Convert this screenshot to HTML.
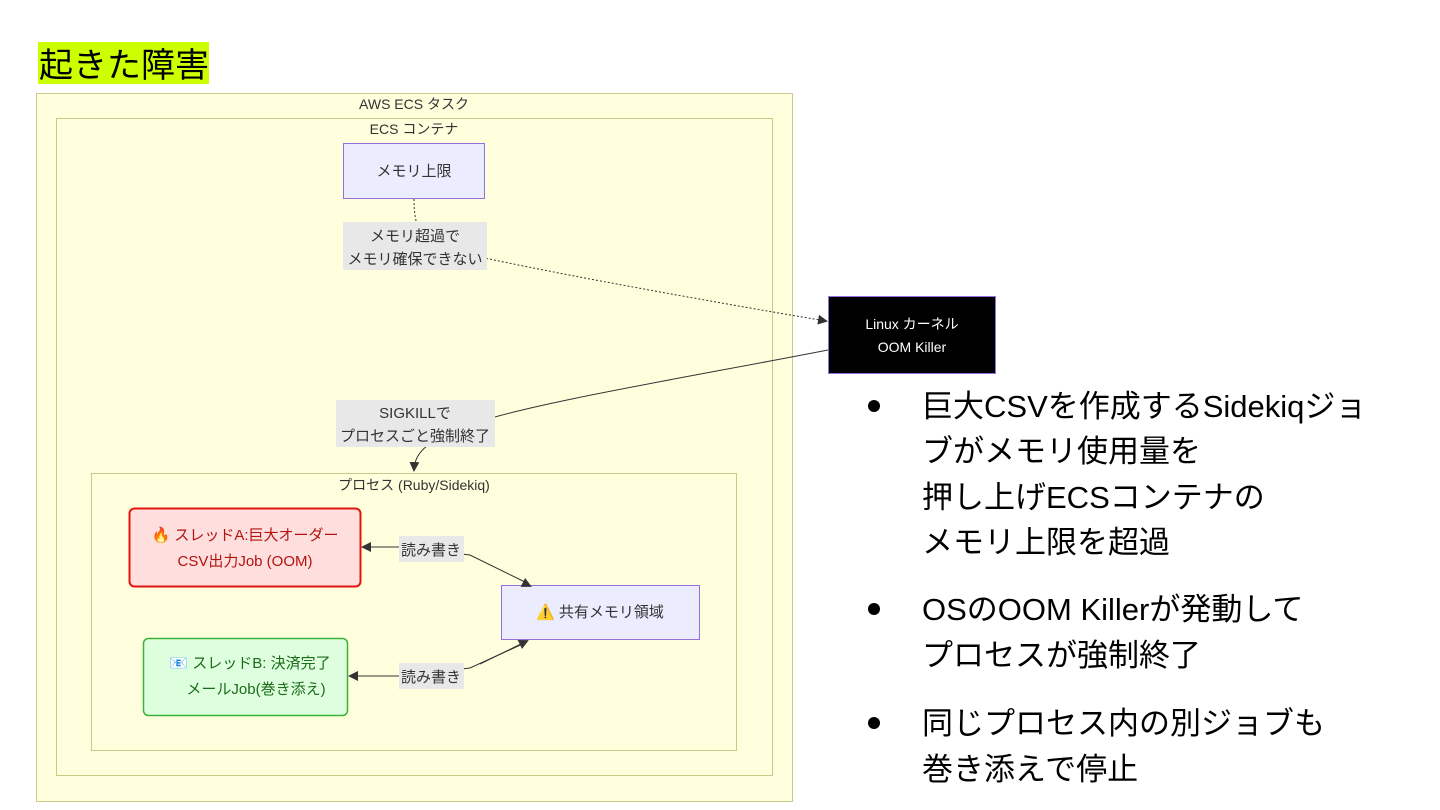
<!DOCTYPE html>
<html><head><meta charset="utf-8"><style>
html,body{margin:0;padding:0;background:#fff;width:1440px;height:810px;overflow:hidden}
svg{display:block}
text{font-family:"Liberation Sans","Noto Sans CJK JP",sans-serif}
</style></head><body>
<svg width="1440" height="810" viewBox="0 0 1440 810" xmlns="http://www.w3.org/2000/svg">
<defs>
<marker id="ah" markerWidth="10" markerHeight="10" refX="8" refY="5" orient="auto" markerUnits="userSpaceOnUse"><path d="M0,0 L10,5 L0,10 z" fill="#333"/></marker>
</defs>
<rect x="38" y="42" width="171" height="42" fill="#ccff00"/>
<text x="39" y="77" font-size="34" fill="#000">起きた障害</text>

<rect x="36.5" y="93.5" width="756" height="708" fill="#ffffde" stroke="#c9c98a"/>
<text x="414" y="109" font-size="14" text-anchor="middle" fill="#333">AWS ECS タスク</text>
<rect x="56.5" y="118.5" width="716" height="657" fill="#ffffde" stroke="#c9c98a"/>
<text x="414" y="134" font-size="14" text-anchor="middle" fill="#333">ECS コンテナ</text>
<rect x="91.5" y="473.5" width="645" height="277" fill="#ffffde" stroke="#c9c98a"/>
<text x="414" y="490" font-size="14" text-anchor="middle" fill="#333">プロセス (Ruby/Sidekiq)</text>

<rect x="343.5" y="143.5" width="141" height="55" fill="#ececff" stroke="#9370db"/>
<text x="414" y="176" font-size="15" text-anchor="middle" fill="#333">メモリ上限</text>

<path d="M414,199 C414,225 420,235 430,245 C480,260 700,300 826,321" fill="none" stroke="#333" stroke-dasharray="2,2" marker-end="url(#ah)"/>
<rect x="343" y="222" width="144" height="48" fill="#e8e8e8"/>
<text x="415" y="241" font-size="15" text-anchor="middle" fill="#333">メモリ超過で</text>
<text x="415" y="264" font-size="15" text-anchor="middle" fill="#333">メモリ確保できない</text>

<rect x="828.5" y="296.5" width="167" height="77" fill="#000" stroke="#9370db"/>
<text x="912" y="329" font-size="14" text-anchor="middle" fill="#fff">Linux カーネル</text>
<text x="912" y="352" font-size="14" text-anchor="middle" fill="#fff">OOM Killer</text>

<path d="M828,350 C700,375 520,405 470,425 C430,440 415,450 414,470" fill="none" stroke="#333" marker-end="url(#ah)"/>
<rect x="336" y="400" width="159" height="47" fill="#e8e8e8"/>
<text x="415" y="418" font-size="15" text-anchor="middle" fill="#333">SIGKILLで</text>
<text x="415" y="441" font-size="15" text-anchor="middle" fill="#333">プロセスごと強制終了</text>

<rect x="129.5" y="508.5" width="231" height="78" rx="5" fill="#ffdede" stroke="#e3140f" stroke-width="2"/>
<text x="245" y="540" font-size="15" text-anchor="middle" fill="#b3120e">🔥 スレッドA:巨大オーダー</text>
<text x="245" y="566" font-size="15" text-anchor="middle" fill="#b3120e">CSV出力Job (OOM)</text>

<rect x="143.5" y="638.5" width="204" height="77" rx="5" fill="#deffde" stroke="#3bb33b" stroke-width="1.5"/>
<text x="250" y="668" font-size="15" text-anchor="middle" fill="#1a6b1a">📧 スレッドB: 決済完了</text>
<text x="256" y="694" font-size="15" text-anchor="middle" fill="#1a6b1a">メールJob(巻き添え)</text>

<rect x="501.5" y="585.5" width="198" height="54" fill="#ececff" stroke="#9370db"/>
<text x="600" y="617" font-size="15" text-anchor="middle" fill="#333">⚠️ 共有メモリ領域</text>

<path d="M527,583 L470,555 L400,547 L363,547" fill="none" stroke="#333" marker-end="url(#ah)"/>
<path d="M528,585 L530,586" fill="none" stroke="#333" marker-end="url(#ah)"/>
<path d="M527,642 L470,668 L400,676 L350,676" fill="none" stroke="#333" marker-end="url(#ah)"/>
<path d="M480,664 L527,641" fill="none" stroke="#333" marker-end="url(#ah)"/>
<rect x="399" y="536" width="65" height="26" fill="#e8e8e8"/>
<text x="431" y="555" font-size="15" text-anchor="middle" fill="#333">読み書き</text>
<rect x="399" y="663" width="65" height="26" fill="#e8e8e8"/>
<text x="431" y="682" font-size="15" text-anchor="middle" fill="#333">読み書き</text>

<g font-size="31" fill="#000">
<circle cx="874" cy="406" r="6"/>
<text x="922" y="417">巨大CSVを作成するSidekiqジョ</text>
<text x="922" y="462">ブがメモリ使用量を</text>
<text x="922" y="508">押し上げECSコンテナの</text>
<text x="922" y="553">メモリ上限を超過</text>
<circle cx="874" cy="609" r="6"/>
<text x="922" y="620">OSのOOM Killerが発動して</text>
<text x="922" y="666">プロセスが強制終了</text>
<circle cx="874" cy="723" r="6"/>
<text x="922" y="734">同じプロセス内の別ジョブも</text>
<text x="922" y="780">巻き添えで停止</text>
</g>
</svg>
</body></html>
